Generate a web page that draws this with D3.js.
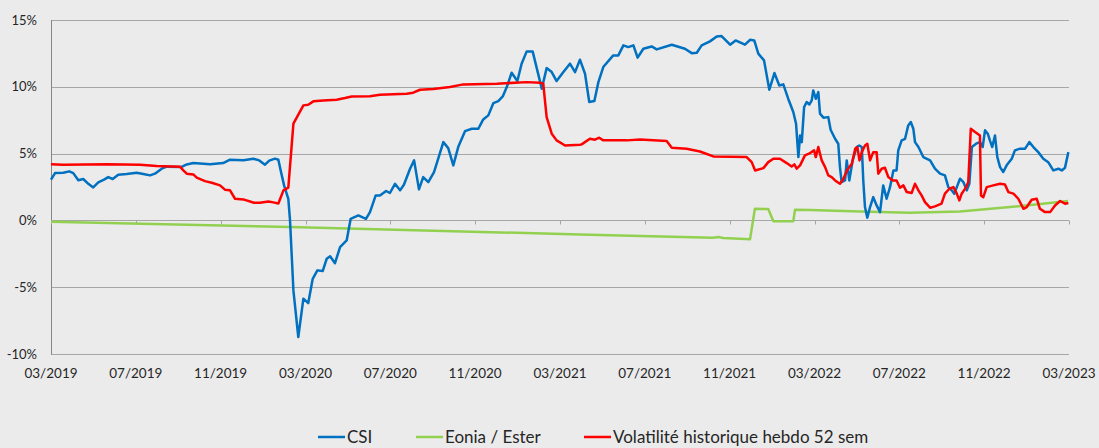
<!DOCTYPE html>
<html lang="fr">
<head>
<meta charset="utf-8">
<script src="https://d3js.org/d3.v7.min.js"></script>
<style>
  body { margin: 0; background: #ebebeb; }
</style>
</head>
<body>
<div id="chart"></div>
<script>
// month index: 0 = 03/2019, 48 = 03/2023
var tickLabels = ["03/2019", "07/2019", "11/2019", "03/2020", "07/2020", "11/2020",
  "03/2021", "07/2021", "11/2021", "03/2022", "07/2022", "11/2022", "03/2023"];
var yTicks = [-10, -5, 0, 5, 10, 15];

// CSI (%)
var csi = [
  [0, 3.05], [0.19, 3.54], [0.58, 3.57], [0.86, 3.67], [1.05, 3.54], [1.29, 3.0], [1.52, 3.1],
  [1.76, 2.74], [1.99, 2.47], [2.23, 2.84], [2.5, 3.05], [2.7, 3.24], [2.91, 3.1], [3.17, 3.42],
  [3.57, 3.47], [4.04, 3.57], [4.35, 3.47], [4.67, 3.37], [4.9, 3.5], [5.22, 3.87], [5.46, 4.02],
  [6.16, 4.0], [6.4, 4.19], [6.71, 4.29], [7.5, 4.21], [8.12, 4.29], [8.44, 4.54], [9.07, 4.51],
  [9.54, 4.62], [9.82, 4.49], [10.09, 4.17], [10.29, 4.47], [10.56, 4.62], [10.72, 4.54],
  [10.83, 3.74], [10.99, 2.62], [11.19, 1.62], [11.27, 0], [11.43, -5.24], [11.66, -8.73],
  [11.9, -5.86], [12.13, -6.19], [12.34, -4.37], [12.56, -3.74], [12.81, -3.79], [13.0, -2.87],
  [13.16, -2.69], [13.39, -3.2], [13.63, -2.0], [13.94, -1.5], [14.13, 0.12], [14.49, 0.37],
  [14.85, 0.12], [15.04, 0.62], [15.31, 1.87], [15.51, 1.87], [15.8, 2.2], [15.98, 2.05],
  [16.22, 2.74], [16.46, 2.25], [16.64, 2.67], [16.93, 3.87], [17.12, 4.49], [17.35, 2.32],
  [17.55, 3.24], [17.79, 2.87], [18.06, 3.62], [18.5, 5.86], [18.73, 5.41], [18.97, 4.12],
  [19.2, 5.49], [19.52, 6.68], [19.84, 6.86], [20.15, 6.86], [20.38, 7.56], [20.62, 7.86],
  [20.86, 8.78], [21.09, 8.93], [21.3, 9.28], [21.49, 9.98], [21.72, 11.05], [21.99, 10.43],
  [22.19, 11.73], [22.43, 12.65], [22.71, 12.65], [22.93, 11.23], [23.14, 9.86], [23.37, 11.4],
  [23.61, 11.1], [23.84, 10.43], [24.16, 11.1], [24.47, 11.73], [24.71, 11.1], [24.94, 12.03],
  [25.18, 10.98], [25.38, 8.86], [25.62, 8.93], [25.81, 10.35], [26.04, 11.48], [26.51, 12.35],
  [26.75, 12.35], [26.99, 13.1], [27.22, 12.97], [27.46, 13.1], [27.66, 12.18], [27.93, 12.85],
  [28.32, 13.02], [28.56, 12.8], [29.27, 13.15], [29.89, 12.85], [30.21, 12.52], [30.45, 12.55],
  [30.68, 13.1], [31.07, 13.4], [31.39, 13.77], [31.62, 13.8], [32.02, 13.15], [32.28, 13.47],
  [32.72, 13.15], [32.96, 13.52], [33.16, 13.47], [33.35, 12.48], [33.62, 11.98], [33.87, 9.78],
  [34.11, 11.03], [34.34, 10.1], [34.53, 10.18], [34.76, 9.11], [35.0, 8.11], [35.13, 7.24],
  [35.24, 4.74], [35.32, 6.36], [35.4, 5.86], [35.51, 8.48], [35.63, 8.86], [35.76, 8.68],
  [35.87, 8.98], [35.94, 9.73], [36.06, 9.11], [36.18, 9.6], [36.26, 7.99], [36.42, 7.69],
  [36.65, 7.73], [36.76, 6.79], [36.97, 6.11], [37.12, 5.74], [37.2, 3.99], [37.28, 2.87],
  [37.44, 2.99], [37.52, 4.49], [37.64, 2.99], [37.8, 4.49], [37.99, 5.49], [38.11, 5.61],
  [38.23, 5.49], [38.3, 2.99], [38.38, 1.0], [38.49, 0.2], [38.62, 1.0], [38.77, 1.74],
  [38.93, 1.12], [39.09, 0.62], [39.24, 2.62], [39.4, 1.62], [39.56, 2.49], [39.72, 3.74],
  [39.87, 3.74], [39.95, 5.24], [40.11, 5.99], [40.27, 6.11], [40.42, 7.11], [40.54, 7.36],
  [40.66, 6.86], [40.74, 5.86], [40.9, 5.49], [41.13, 4.74], [41.45, 4.49], [41.68, 3.87],
  [41.92, 3.5], [42.15, 3.37], [42.31, 2.49], [42.47, 2.25], [42.59, 2.0], [42.71, 2.49],
  [42.86, 3.12], [43.02, 2.87], [43.18, 2.25], [43.3, 2.74], [43.42, 5.49], [43.62, 5.74],
  [43.8, 5.86], [43.93, 5.49], [44.04, 6.74], [44.17, 6.49], [44.27, 5.99], [44.38, 5.49],
  [44.51, 6.36], [44.62, 4.74], [44.75, 3.99], [44.9, 3.62], [45.06, 4.12], [45.3, 4.62],
  [45.45, 5.24], [45.69, 5.37], [45.93, 5.37], [46.13, 5.86], [46.32, 5.49], [46.55, 5.11],
  [46.79, 4.62], [47.02, 4.36], [47.26, 3.74], [47.5, 3.87], [47.66, 3.74], [47.81, 3.94],
  [47.97, 5.11]
];

// Eonia / Ester (%)
var eonia = [
  [0, -0.1], [11.27, -0.5], [24.94, -1.05], [31.2, -1.3], [31.5, -1.25], [31.7, -1.32],
  [32.96, -1.42], [33.19, 0.87], [33.82, 0.85], [34.06, -0.07], [35.0, -0.07], [35.08, 0.8],
  [35.79, 0.77], [38.15, 0.67], [40.5, 0.57], [42.86, 0.67], [45.22, 1.0], [46.77, 1.25],
  [47.95, 1.45]
];

// Volatilité historique hebdo 52 sem (%)
var vola = [
  [0, 4.21], [0.58, 4.17], [2.63, 4.21], [4.2, 4.17], [4.98, 4.07], [6.08, 4.02], [6.24, 3.74],
  [6.4, 3.5], [6.71, 3.44], [6.87, 3.2], [7.26, 2.94], [7.58, 2.82], [7.97, 2.62], [8.2, 2.3],
  [8.44, 2.25], [8.68, 1.62], [9.07, 1.57], [9.57, 1.32], [9.85, 1.32], [10.25, 1.42],
  [10.48, 1.35], [10.72, 1.27], [10.96, 2.25], [11.19, 2.45], [11.43, 7.24], [11.9, 8.61],
  [12.13, 8.66], [12.37, 8.91], [12.84, 8.98], [13.47, 9.03], [13.86, 9.16], [14.18, 9.28],
  [15.04, 9.3], [15.51, 9.41], [16.77, 9.48], [17.08, 9.56], [17.4, 9.78], [18.03, 9.83],
  [18.81, 9.98], [19.44, 10.18], [21.02, 10.23], [22.43, 10.35], [23.06, 10.3], [23.21, 10.23],
  [23.37, 7.73], [23.61, 6.49], [23.84, 5.99], [24.24, 5.61], [24.94, 5.67], [25.02, 5.69],
  [25.41, 6.11], [25.65, 6.04], [25.85, 6.19], [26.04, 5.99], [27.15, 5.99], [27.77, 6.06],
  [29.03, 5.94], [29.27, 5.44], [29.97, 5.37], [30.6, 5.16], [31.23, 4.79], [32.8, 4.74],
  [33.04, 4.36], [33.2, 3.74], [33.59, 3.91], [33.82, 4.36], [34.06, 4.62], [34.37, 4.62],
  [34.69, 4.29], [34.92, 4.04], [35.05, 4.19], [35.16, 3.87], [35.32, 4.12], [35.55, 4.87],
  [35.79, 5.04], [35.98, 5.24], [36.06, 4.74], [36.18, 5.49], [36.34, 4.49], [36.5, 3.99],
  [36.65, 3.37], [36.81, 3.24], [36.97, 2.99], [37.2, 2.74], [37.36, 3.12], [37.55, 3.79],
  [37.76, 4.24], [37.92, 5.37], [38.02, 5.49], [38.12, 4.49], [38.23, 5.11], [38.38, 5.61],
  [38.49, 5.74], [38.62, 4.49], [38.77, 5.11], [38.93, 5.11], [39.01, 3.5], [39.17, 3.87],
  [39.32, 3.94], [39.48, 3.24], [39.69, 2.99], [39.87, 2.99], [40.03, 2.45], [40.19, 2.62],
  [40.35, 2.12], [40.58, 2.05], [40.74, 2.74], [40.9, 2.25], [41.05, 1.87], [41.21, 1.37],
  [41.45, 0.95], [41.68, 1.05], [41.99, 1.25], [42.15, 2.0], [42.36, 2.37], [42.55, 2.49],
  [42.71, 2.0], [42.83, 1.5], [42.94, 2.0], [43.15, 2.49], [43.25, 2.87], [43.37, 6.86],
  [43.57, 6.61], [43.8, 6.36], [43.85, 1.87], [43.96, 1.74], [44.12, 2.49], [44.43, 2.62],
  [44.75, 2.74], [44.98, 2.69], [45.14, 2.12], [45.38, 2.0], [45.61, 1.62], [45.85, 0.87],
  [46.01, 1.0], [46.24, 1.55], [46.48, 1.62], [46.63, 0.87], [46.87, 0.62], [47.11, 0.62],
  [47.34, 1.12], [47.58, 1.45], [47.81, 1.25], [47.97, 1.3]
];

var series = [
  {name: "CSI", values: csi, color: "#0070c0"},
  {name: "Eonia / Ester", values: eonia, color: "#92d050"},
  {name: "Volatilité historique hebdo 52 sem", values: vola, color: "#ff0000"}
];

var W = 1099, H = 448;
var font = "Lato, 'Liberation Sans', sans-serif";

var svg = d3.select("#chart").append("svg")
  .attr("width", W).attr("height", H)
  .style("background", "#ebebeb");

var x = d3.scaleLinear().domain([0, 48]).range([51, 1069]);
var y = d3.scaleLinear().domain([-10, 15]).range([354, 20]);

// gridlines
svg.append("g")
  .selectAll("line")
  .data(yTicks)
  .enter().append("line")
    .attr("x1", 51).attr("x2", 1069)
    .attr("y1", function(d) { return Math.round(y(d)) + 0.5; })
    .attr("y2", function(d) { return Math.round(y(d)) + 0.5; })
    .attr("stroke", "#a6a6a6")
    .attr("stroke-width", 1)

// left axis
svg.append("line")
  .attr("x1", 51.5).attr("x2", 51.5)
  .attr("y1", y(15)).attr("y2", y(-10) + 0.5)
  .attr("stroke", "#868686")

svg.append("g")
  .selectAll("text")
  .data(yTicks)
  .enter().append("text")
    .attr("x", 37)
    .attr("y", function(d) { return y(d); })
    .attr("dy", "0.35em")
    .attr("text-anchor", "end")
    .attr("font-family", font)
    .attr("font-size", "13px")
    .attr("fill", "#262626")
    .text(function(d) { return d + "%"; })

// tick marks on the 0% line + labels at the bottom
var y0 = Math.round(y(0)) + 0.5;
svg.append("g")
  .selectAll("line")
  .data(tickLabels)
  .enter().append("line")
    .attr("x1", function(d, i) { return Math.round(x(i * 4)) + 0.5; })
    .attr("x2", function(d, i) { return Math.round(x(i * 4)) + 0.5; })
    .attr("y1", y0).attr("y2", y0 + 4)
    .attr("stroke", "#a6a6a6")

svg.append("g")
  .selectAll("text")
  .data(tickLabels)
  .enter().append("text")
    .attr("x", function(d, i) { return x(i * 4); })
    .attr("y", 378)
    .attr("text-anchor", "middle")
    .attr("font-family", font)
    .attr("font-size", "13.5px")
    .attr("fill", "#262626")
    .text(function(d) { return d; })

// lines
var line = d3.line()
  .x(function(d) { return x(d[0]); })
  .y(function(d) { return y(d[1]); })

svg.append("g")
  .selectAll("path")
  .data([series[1], series[0], series[2]])
  .enter().append("path")
    .attr("d", function(d) { return line(d.values); })
    .attr("fill", "none")
    .attr("stroke", function(d) { return d.color; })
    .attr("stroke-width", 2.5)
    .attr("stroke-linejoin", "round")

// legend
var legendX = [318, 416, 584];
var legend = svg.append("g")
  .selectAll("g")
  .data(series)
  .enter().append("g")
    .attr("transform", function(d, i) { return "translate(" + legendX[i] + ",437)"; })

legend.append("line")
  .attr("x1", 0).attr("x2", 27)
  .attr("stroke", function(d) { return d.color; })
  .attr("stroke-width", 2.5)

legend.append("text")
  .attr("x", 29)
  .attr("dy", "0.35em")
  .attr("font-family", font)
  .attr("font-size", "17px")
  .attr("fill", "#262626")
  .text(function(d) { return d.name; })
</script>
</body>
</html>
